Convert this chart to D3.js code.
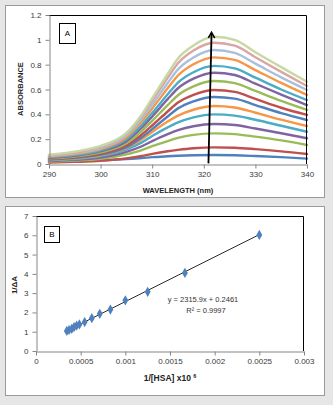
<!DOCTYPE html>
<html>
<head>
<meta charset="utf-8">
<script src="https://cdn.jsdelivr.net/npm/d3@7"></script>
<style>
  body { margin: 0; background: #e6e6e6; }
  text { font-family: "Liberation Sans Narrow", "Liberation Sans", Arial, sans-serif; }
</style>
</head>
<body>
<div id="chart"></div>
<script>
// Panel A: absorption spectra, one row per titration step
const wavelengths = [290, 295, 300, 305, 308, 310, 313, 315, 318, 322, 326, 330, 335, 340];
const absorbance = [
    [0.020, 0.024, 0.030, 0.040, 0.048, 0.055, 0.062, 0.066, 0.070, 0.072, 0.070, 0.064, 0.055, 0.043],
    [0.012, 0.017, 0.025, 0.045, 0.065, 0.082, 0.103, 0.114, 0.127, 0.134, 0.131, 0.120, 0.102, 0.080],
    [0.020, 0.027, 0.042, 0.077, 0.111, 0.143, 0.185, 0.210, 0.235, 0.247, 0.241, 0.220, 0.190, 0.153],
    [0.024, 0.034, 0.052, 0.098, 0.143, 0.184, 0.240, 0.272, 0.304, 0.322, 0.314, 0.286, 0.248, 0.207],
    [0.028, 0.040, 0.063, 0.118, 0.174, 0.226, 0.295, 0.335, 0.376, 0.400, 0.390, 0.356, 0.308, 0.260],
    [0.032, 0.045, 0.070, 0.130, 0.200, 0.258, 0.342, 0.390, 0.437, 0.467, 0.455, 0.413, 0.357, 0.306],
    [0.036, 0.050, 0.076, 0.135, 0.216, 0.281, 0.383, 0.448, 0.505, 0.540, 0.527, 0.475, 0.410, 0.354],
    [0.040, 0.055, 0.083, 0.149, 0.238, 0.310, 0.423, 0.495, 0.557, 0.596, 0.581, 0.524, 0.453, 0.395],
    [0.045, 0.060, 0.093, 0.167, 0.267, 0.347, 0.474, 0.554, 0.625, 0.668, 0.651, 0.588, 0.508, 0.435],
    [0.050, 0.066, 0.103, 0.184, 0.294, 0.382, 0.522, 0.610, 0.687, 0.735, 0.717, 0.647, 0.559, 0.475],
    [0.055, 0.072, 0.110, 0.198, 0.316, 0.411, 0.561, 0.656, 0.739, 0.790, 0.770, 0.695, 0.600, 0.515],
    [0.060, 0.080, 0.120, 0.215, 0.344, 0.447, 0.610, 0.713, 0.803, 0.859, 0.838, 0.756, 0.653, 0.556],
    [0.064, 0.086, 0.128, 0.230, 0.367, 0.477, 0.652, 0.762, 0.858, 0.918, 0.895, 0.808, 0.698, 0.596],
    [0.068, 0.092, 0.137, 0.244, 0.390, 0.508, 0.694, 0.811, 0.914, 0.977, 0.953, 0.860, 0.742, 0.628],
    [0.075, 0.100, 0.145, 0.250, 0.400, 0.530, 0.725, 0.850, 0.955, 1.025, 1.000, 0.900, 0.780, 0.663]
];
const seriesColors = ["#4f81bd", "#c0504d", "#9bbb59", "#8064a2", "#4bacc6", "#f79646",
    "#4f81bd", "#c0504d", "#9bbb59", "#8064a2", "#4bacc6", "#f79646",
    "#a7c0de", "#dba5a4", "#c6d9a2"];
const waveTicks = [290, 300, 310, 320, 330, 340];
const absTicks = [0, 0.2, 0.4, 0.6, 0.8, 1, 1.2];
// arrow showing the rise in absorbance: [wavelength, absorbance] tail and head
const arrowTail = [320.9, 0.005];
const arrowHead = [321.5, 1.06];

// Panel B: double reciprocal plot
const invHSA = [0.000345, 0.000370, 0.000400, 0.000426, 0.000455, 0.000486, 0.000545,
    0.000625, 0.000714, 0.000833, 0.001, 0.00125, 0.001667, 0.0025];
const invDeltaA = [1.04, 1.09, 1.15, 1.24, 1.32, 1.38, 1.50, 1.70, 1.93, 2.15, 2.63, 3.07, 4.05, 6.02];
const fitSlope = 2315.9;
const fitIntercept = 0.2461;
const fitR2 = 0.9997;
const hsaTicks = [0, 0.0005, 0.001, 0.0015, 0.002, 0.0025, 0.003];
const deltaTicks = [0, 1, 2, 3, 4, 5, 6, 7];

const svg = d3.select("#chart").append("svg")
    .attr("width", 333)
    .attr("height", 405);

svg.append("rect").attr("width", 333).attr("height", 405).attr("fill", "#e6e6e6");

function panel(y, h) {
    svg.append("rect")
        .attr("x", 5.5).attr("y", y + 0.5)
        .attr("width", 319).attr("height", h)
        .attr("fill", "#fff")
        .attr("stroke", "#9a9a9a");
}

function frame(box, xScale, yScale, xTicks, yTicks, xFmt, yFmt) {
    const g = svg.append("g");
    // plot area outline (top and right stay black)
    g.append("path")
        .attr("d", `M${box.left},${box.top + 0.5}H${box.right - 0.5}V${box.bottom}`)
        .attr("fill", "none").attr("stroke", "#000");

    const xAxis = g.append("g")
        .attr("transform", `translate(0,${box.bottom + 0.5})`)
        .call(d3.axisBottom(xScale).tickValues(xTicks).tickSize(4).tickSizeOuter(0).tickPadding(3).tickFormat(xFmt));
    const yAxis = g.append("g")
        .attr("transform", `translate(${box.left + 0.5},0)`)
        .call(d3.axisLeft(yScale).tickValues(yTicks).tickSize(4).tickSizeOuter(0).tickPadding(4).tickFormat(yFmt));

    [xAxis, yAxis].forEach(a => {
        a.select(".domain").attr("stroke", "#868686");
        a.selectAll(".tick line").attr("stroke", "#868686");
        a.selectAll(".tick text").attr("fill", "#3a3a3a").style("font-size", "8px");
    });
    return g;
}

function labelBox(x, y, w, h, txt) {
    svg.append("rect")
        .attr("x", x + 0.5).attr("y", y + 0.5)
        .attr("width", w).attr("height", h)
        .attr("fill", "#fff").attr("stroke", "#000");
    svg.append("text")
        .attr("x", x + w / 2 + 0.5).attr("y", y + h / 2 + 3)
        .attr("text-anchor", "middle")
        .style("font-size", "8px")
        .text(txt);
}

// ---------- panel A ----------
panel(5, 192);
const boxA = { left: 49, right: 307, top: 15, bottom: 164 };
const xA = d3.scaleLinear().domain([290, 340]).range([boxA.left, boxA.right]);
const yA = d3.scaleLinear().domain([0, 1.2]).range([boxA.bottom, boxA.top]);

const lineA = d3.line()
    .x((d, i) => xA(wavelengths[i]))
    .y(d => yA(d))
    .curve(d3.curveMonotoneX);

svg.append("g").selectAll("path")
    .data(absorbance)
    .join("path")
    .attr("d", lineA)
    .attr("fill", "none")
    .attr("stroke", (d, i) => seriesColors[i])
    .attr("stroke-width", 2.4)
    .attr("stroke-linecap", "round");

frame(boxA, xA, yA, waveTicks, absTicks, d3.format("d"), d => d3.format("")(+d.toFixed(1)));

labelBox(59, 23, 16, 20, "A");

// arrow
const ax0 = xA(arrowTail[0]), ay0 = yA(arrowTail[1]);
const ax1 = xA(arrowHead[0]), ay1 = yA(arrowHead[1]);
svg.append("line")
    .attr("x1", ax0).attr("y1", ay0).attr("x2", ax1).attr("y2", ay1 + 1)
    .attr("stroke", "#000").attr("stroke-width", 1.8);
svg.append("path")
    .attr("d", `M${ax1 - 3.2},${ay1 + 5.5}L${ax1},${ay1}L${ax1 + 3.2},${ay1 + 5.8}`)
    .attr("fill", "none").attr("stroke", "#000").attr("stroke-width", 1.6)
    .attr("stroke-linejoin", "miter");

svg.append("text")
    .attr("x", 178).attr("y", 193)
    .attr("text-anchor", "middle")
    .style("font-size", "7.5px").style("font-weight", "bold")
    .attr("fill", "#222")
    .text("WAVELENGTH (nm)");
svg.append("text")
    .attr("transform", "translate(23,89) rotate(-90)")
    .attr("text-anchor", "middle")
    .style("font-size", "7.5px").style("font-weight", "bold")
    .attr("fill", "#222")
    .text("ABSORBANCE");

// ---------- panel B ----------
panel(206, 189);
const boxB = { left: 36, right: 304, top: 216, bottom: 351 };
const xB = d3.scaleLinear().domain([0, 0.003]).range([boxB.left, boxB.right]);
const yB = d3.scaleLinear().domain([0, 7]).range([boxB.bottom, boxB.top]);

frame(boxB, xB, yB, hsaTicks, deltaTicks, d => d === 0 ? "0" : d3.format("")(+d.toFixed(4)), d3.format("d"));

// linear fit across the measured range
const xFit = d3.extent(invHSA);
svg.append("line")
    .attr("x1", xB(xFit[0])).attr("y1", yB(fitSlope * xFit[0] + fitIntercept))
    .attr("x2", xB(xFit[1])).attr("y2", yB(fitSlope * xFit[1] + fitIntercept))
    .attr("stroke", "#111").attr("stroke-width", 0.9);

svg.append("g").selectAll("path")
    .data(invHSA)
    .join("path")
    .attr("transform", (d, i) => `translate(${xB(d)},${yB(invDeltaA[i])})`)
    .attr("d", d3.symbol(d3.symbolDiamond, 30))
    .attr("fill", "#4f81bd");

labelBox(44, 226, 15, 16, "B");

svg.append("text")
    .attr("x", 203).attr("y", 302)
    .attr("text-anchor", "middle")
    .style("font-size", "7.5px").attr("fill", "#333")
    .text(`y = ${fitSlope}x + ${fitIntercept}`);
svg.append("text")
    .attr("x", 206).attr("y", 313)
    .attr("text-anchor", "middle")
    .style("font-size", "7.5px").attr("fill", "#333")
    .text(`R² = ${fitR2}`);

const xTitle = svg.append("text")
    .attr("x", 170).attr("y", 381)
    .attr("text-anchor", "middle")
    .style("font-size", "8.5px").style("font-weight", "bold")
    .attr("fill", "#222");
xTitle.append("tspan").text("1/[HSA] x10 ");
xTitle.append("tspan").attr("dy", -3).style("font-size", "5.5px").text("6");

svg.append("text")
    .attr("transform", "translate(17,285) rotate(-90)")
    .attr("text-anchor", "middle")
    .style("font-size", "8px").style("font-weight", "bold")
    .attr("fill", "#222")
    .text("1/ΔA");
</script>
</body>
</html>
